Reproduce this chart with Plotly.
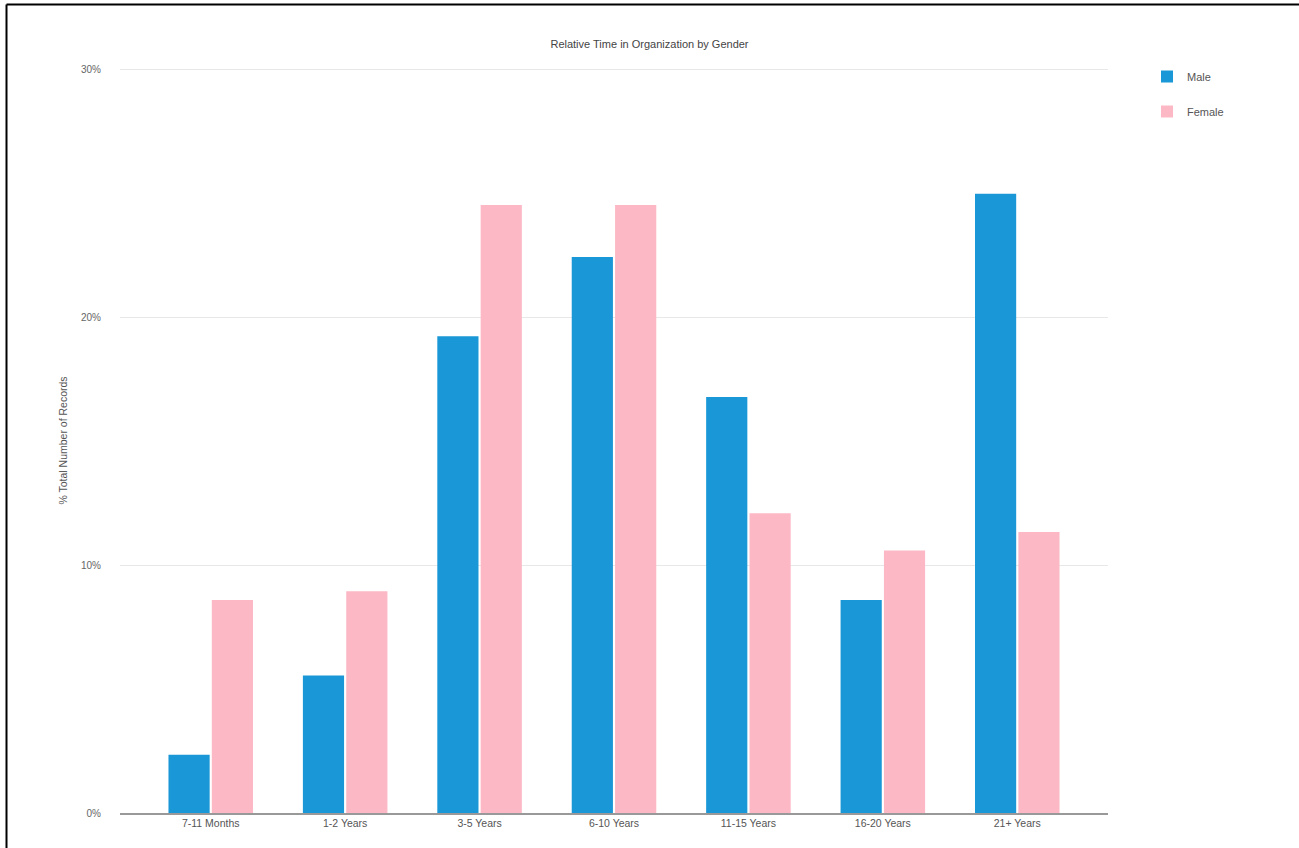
import plotly.graph_objects as go

categories = ["7-11 Months", "1-2 Years", "3-5 Years", "6-10 Years", "11-15 Years", "16-20 Years", "21+ Years"]
male = [2.35, 5.55, 19.25, 22.45, 16.8, 8.6, 25.0]
female = [8.6, 8.95, 24.55, 24.55, 12.1, 10.6, 11.35]
y_ticks = [0, 10, 20, 30]
y_tick_labels = ["0%", "10%", "20%", "30%"]

MALE_COLOR = "#1a97d6"
FEMALE_COLOR = "#fcb8c5"
FONT = "Liberation Sans, Arial, sans-serif"

fig = go.Figure()
fig.add_trace(go.Bar(name="Male", x=categories, y=male, marker_color=MALE_COLOR,
                     marker_line_width=0, legendgroup="m"))
fig.add_trace(go.Bar(name="Female", x=categories, y=female, marker_color=FEMALE_COLOR,
                     marker_line_width=0, legendgroup="f"))

W, H = 1299, 848
L, R, T, B = 120, 191, 68, 35
pw, ph = W - L - R, H - T - B

def px(x):
    return (x - L) / pw

def py(y):
    return (H - B - y) / ph

fig.update_layout(
    width=W, height=H,
    margin=dict(l=L, r=R, t=T, b=B),
    paper_bgcolor="white", plot_bgcolor="white",
    font=dict(family=FONT, size=10, color="#555"),
    barmode="group", bargap=0.355, bargroupgap=0.05,
    title=dict(text="Relative Time in Organization by Gender", x=0.5, xref="container",
               y=1 - 44 / H, yref="container", yanchor="middle", xanchor="center",
               font=dict(size=11, color="#444", family=FONT)),
    xaxis=dict(type="category", range=[-0.675, 6.675], showgrid=False,
               showline=True, linecolor="#999", linewidth=1.5,
               ticks="", tickfont=dict(size=10.5, color="#555")),
    yaxis=dict(range=[0, 30.08], tickmode="array", tickvals=y_ticks, ticktext=y_tick_labels,
               gridcolor="#e8e8e8", gridwidth=1, zeroline=False,
               showline=False, ticks="", ticklabelstandoff=18,
               tickfont=dict(size=10, color="#666"),
               title=dict(text="% Total Number of Records", standoff=11,
                          font=dict(size=10.5, color="#555"))),
    legend=dict(x=px(1147), y=py(62), xanchor="left", yanchor="top",
                font=dict(size=11, color="#555"), tracegroupgap=16,
                itemwidth=30, bgcolor="rgba(0,0,0,0)"),
    shapes=[
        dict(type="line", xref="paper", yref="paper", x0=px(6.5), x1=px(1300),
             y0=py(4.5), y1=py(4.5), line=dict(color="black", width=2)),
        dict(type="line", xref="paper", yref="paper", x0=px(6.5), x1=px(6.5),
             y0=py(4.5), y1=py(849), line=dict(color="black", width=2)),
    ],
)

fig.write_html("out.html", config={"displayModeBar": False},
               post_script="document.body.style.margin='0';")
